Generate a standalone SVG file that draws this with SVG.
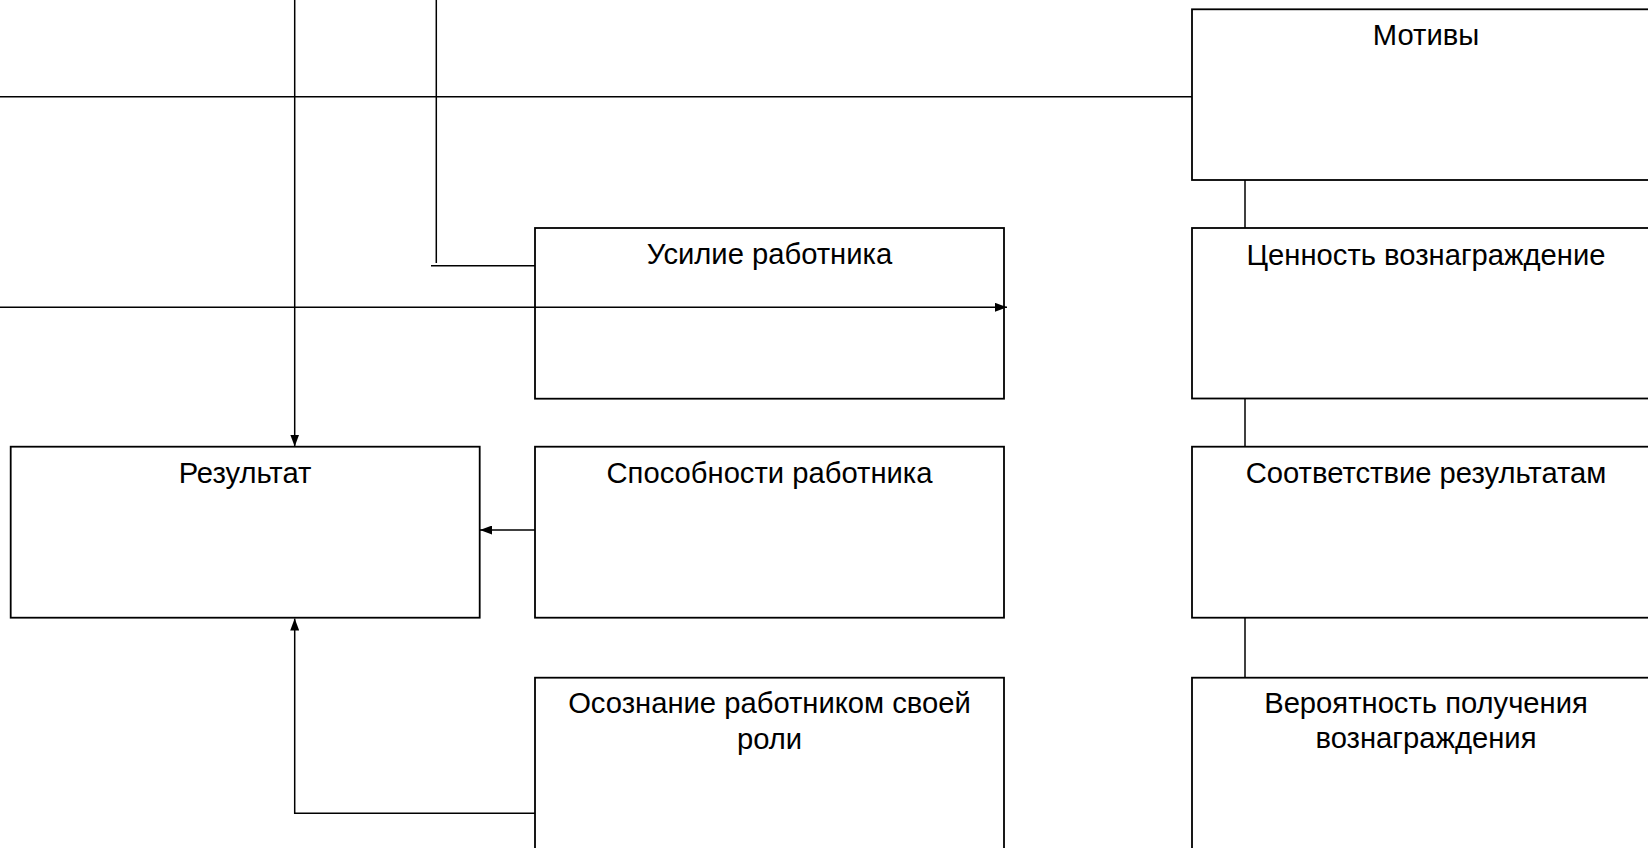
<svg xmlns="http://www.w3.org/2000/svg" width="1648" height="848" viewBox="0 0 1648 848">
  <style>
    .box { fill: #ffffff; stroke: #000000; stroke-width: 1.8; }
    .lbl { font-family: "Liberation Sans", Arial, sans-serif; font-size: 29.2px; fill: #000000; text-anchor: middle; }
    .wire { fill: none; stroke: #000000; stroke-width: 1.5; }
  </style>
  <defs>
    <marker id="arrow" viewBox="0 0 12 9" refX="12" refY="4.5" markerWidth="12" markerHeight="9" markerUnits="userSpaceOnUse" orient="auto">
      <path d="M0,0 L12,4.5 L0,9 Z" fill="#000000"/>
    </marker>
  </defs>
  <rect x="0" y="0" width="1648" height="848" fill="#ffffff"/>

  <g id="node-motives">
    <rect class="box" x="1192" y="9.3" width="469" height="170.7"/>
    <text class="lbl" x="1426" y="45">Мотивы</text>
  </g>
  <g id="node-effort">
    <rect class="box" x="535" y="228" width="469" height="170.7"/>
    <text class="lbl" x="769.5" y="263.5">Усилие работника</text>
  </g>
  <g id="node-reward-value">
    <rect class="box" x="1192" y="228" width="469" height="170.5"/>
    <text class="lbl" x="1426" y="265">Ценность вознаграждение</text>
  </g>
  <g id="node-result">
    <rect class="box" x="10.7" y="446.7" width="469" height="171"/>
    <text class="lbl" x="245" y="483.3">Результат</text>
  </g>
  <g id="node-abilities">
    <rect class="box" x="535" y="446.7" width="469" height="171"/>
    <text class="lbl" x="769.5" y="483.3">Способности работника</text>
  </g>
  <g id="node-match">
    <rect class="box" x="1192" y="446.7" width="469" height="171"/>
    <text class="lbl" x="1426" y="483.3">Соответствие результатам</text>
  </g>
  <g id="node-role">
    <rect class="box" x="535" y="677.7" width="469" height="175"/>
    <text class="lbl" x="769.5" y="713.3">Осознание работником своей</text>
    <text class="lbl" x="769.5" y="748.8">роли</text>
  </g>
  <g id="node-probability">
    <rect class="box" x="1192" y="677.7" width="469" height="175"/>
    <text class="lbl" x="1426" y="713.3">Вероятность получения</text>
    <text class="lbl" x="1426" y="748.3">вознаграждения</text>
  </g>

  <!-- connectors, drawn above the boxes -->
  <g id="connectors">
    <line class="wire" x1="0" y1="96.7" x2="1192" y2="96.7"/>
    <line class="wire" x1="294.7" y1="0" x2="294.7" y2="446.5" marker-end="url(#arrow)"/>
    <line class="wire" x1="436.3" y1="0" x2="436.3" y2="263"/>
    <line class="wire" x1="431" y1="265.8" x2="535" y2="265.8"/>
    <line class="wire" x1="0" y1="307.3" x2="1007" y2="307.3" marker-end="url(#arrow)"/>
    <line class="wire" x1="535" y1="530" x2="480" y2="530" marker-end="url(#arrow)"/>
    <polyline class="wire" points="535,813.3 294.7,813.3 294.7,618.5" marker-end="url(#arrow)"/>
    <line class="wire" x1="1245" y1="180" x2="1245" y2="228"/>
    <line class="wire" x1="1245" y1="398.5" x2="1245" y2="446.7"/>
    <line class="wire" x1="1245" y1="617.7" x2="1245" y2="677.7"/>
  </g>
</svg>
